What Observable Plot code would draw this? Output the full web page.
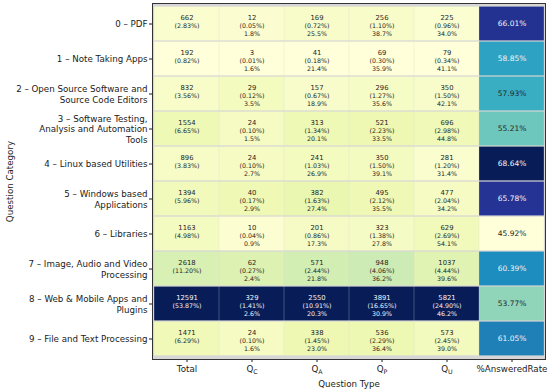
<!DOCTYPE html>
<html><head><meta charset="utf-8">
<script src="https://cdn.jsdelivr.net/npm/d3@7"></script>
<script src="https://cdn.jsdelivr.net/npm/@observablehq/plot@0.6"></script>
<style>body{margin:0;background:#fff} svg{display:block}</style>
</head><body><div id="chart"></div>
<script>
const categories = [
  "0 – PDF",
  "1 – Note Taking Apps",
  "2 – Open Source Software and\nSource Code Editors",
  "3 – Software Testing,\nAnalysis and Automation\nTools",
  "4 – Linux based Utilities",
  "5 – Windows based\nApplications",
  "6 – Libraries",
  "7 – Image, Audio and Video\nProcessing",
  "8 – Web & Mobile Apps and\nPlugins",
  "9 – File and Text Processing"
];
const columns = ["Total", "Q_C", "Q_A", "Q_P", "Q_U", "%AnsweredRate"];

const total    = [662, 192, 832, 1554, 896, 1394, 1163, 2618, 12591, 1471];
const totalPct = [2.83, 0.82, 3.56, 6.65, 3.83, 5.96, 4.98, 11.20, 53.87, 6.29];
const qc    = [12, 3, 29, 24, 24, 40, 10, 62, 329, 24];
const qcPct = [0.05, 0.01, 0.12, 0.10, 0.10, 0.17, 0.04, 0.27, 1.41, 0.10];
const qcRow = [1.8, 1.6, 3.5, 1.5, 2.7, 2.9, 0.9, 2.4, 2.6, 1.6];
const qa    = [169, 41, 157, 313, 241, 382, 201, 571, 2550, 338];
const qaPct = [0.72, 0.18, 0.67, 1.34, 1.03, 1.63, 0.86, 2.44, 10.91, 1.45];
const qaRow = [25.5, 21.4, 18.9, 20.1, 26.9, 27.4, 17.3, 21.8, 20.3, 23.0];
const qp    = [256, 69, 296, 521, 350, 495, 323, 948, 3891, 536];
const qpPct = [1.10, 0.30, 1.27, 2.23, 1.50, 2.12, 1.38, 4.06, 16.65, 2.29];
const qpRow = [38.7, 35.9, 35.6, 33.5, 39.1, 35.5, 27.8, 36.2, 30.9, 36.4];
const qu    = [225, 79, 350, 696, 281, 477, 629, 1037, 5821, 573];
const quPct = [0.96, 0.34, 1.50, 2.98, 1.20, 2.04, 2.69, 4.44, 24.90, 2.45];
const quRow = [34.0, 41.1, 42.1, 44.8, 31.4, 34.2, 54.1, 39.6, 46.2, 39.0];
const answeredRate = [66.01, 58.85, 57.93, 55.21, 68.64, 65.78, 45.92, 60.39, 53.77, 61.05];

const ylgnbu = d3.piecewise(d3.interpolateRgb, ["#ffffd9","#edf8b1","#c7e9b4","#7fcdbb","#41b6c4","#1d91c0","#225ea8","#253494","#081d58"]);

const series = [
  {col: "Total", count: total, pct: totalPct, row: null},
  {col: "Q_C", count: qc, pct: qcPct, row: qcRow},
  {col: "Q_A", count: qa, pct: qaPct, row: qaRow},
  {col: "Q_P", count: qp, pct: qpPct, row: qpRow},
  {col: "Q_U", count: qu, pct: quPct, row: quRow}
];
const cells = [];
for (const s of series) {
  const [lo, hi] = d3.extent(s.count);
  s.count.forEach((v, i) => cells.push({
    cat: categories[i], col: s.col, t: (v - lo) / (hi - lo),
    l1: String(v), l2: `(${s.pct[i].toFixed(2)}%)`, l3: s.row ? s.row[i].toFixed(1) + "%" : ""
  }));
}
const rateCells = [];
{
  const [lo, hi] = d3.extent(answeredRate);
  answeredRate.forEach((v, i) => rateCells.push({
    cat: categories[i], col: "%AnsweredRate", t: (v - lo) / (hi - lo), l1: v.toFixed(2) + "%"
  }));
}
const allCells = cells.concat(rateCells);
const txtFill = d => d.t > 0.55 ? "#f4f4f4" : "#262626";

const chart = Plot.plot({
  width: 550, height: 392,
  marginLeft: 152, marginRight: 5, marginTop: 3, marginBottom: 33,
  style: {fontFamily: "DejaVu Sans", fontSize: "8.7px", color: "#1a1a1a", background: "#fff"},
  x: {domain: columns, padding: 0},
  y: {domain: categories, padding: 0},
  color: {type: "identity"},
  marks: [
    Plot.frame({fill: "#d6d6d6"}),
    Plot.cell(allCells, {x: "col", y: "cat", fill: d => ylgnbu(d.t), insetTop: 0.6, insetBottom: 0.6, insetLeft: 0.15, insetRight: 0.15}),
    Plot.text(cells, {x: "col", y: "cat", text: "l1", dy: -6, fontSize: 6.8, fill: txtFill}),
    Plot.text(cells, {x: "col", y: "cat", text: "l2", dy: 1.7, fontSize: 6.3, fill: txtFill}),
    Plot.text(cells, {x: "col", y: "cat", text: "l3", dy: 9.5, fontSize: 6.3, fill: txtFill}),
    Plot.text(rateCells, {x: "col", y: "cat", text: "l1", fontSize: 7.5, fill: txtFill}),
    Plot.axisX({tickSize: 3, tickPadding: 3, fontSize: 8.7, label: "Question Type", labelAnchor: "center", labelOffset: 27}),
    Plot.axisY({tickSize: 3, tickPadding: 2, fontSize: 8.7, lineHeight: 1.23, label: "Question Category", labelAnchor: "center", labelOffset: 146}),
    Plot.frame({stroke: "#333", strokeWidth: 1})
  ]
});
document.getElementById("chart").appendChild(chart);

// render Q_X tick labels with subscripts
chart.querySelectorAll('g[aria-label="x-axis tick label"] text').forEach(t => {
  const m = /^Q_(\w)$/.exec(t.textContent);
  if (!m) return;
  t.textContent = "";
  const ns = "http://www.w3.org/2000/svg";
  const a = document.createElementNS(ns, "tspan"); a.textContent = "Q";
  const b = document.createElementNS(ns, "tspan"); b.textContent = m[1];
  b.setAttribute("dy", "2"); b.setAttribute("font-size", "6.3");
  t.appendChild(a); t.appendChild(b);
});
</script></body></html>
